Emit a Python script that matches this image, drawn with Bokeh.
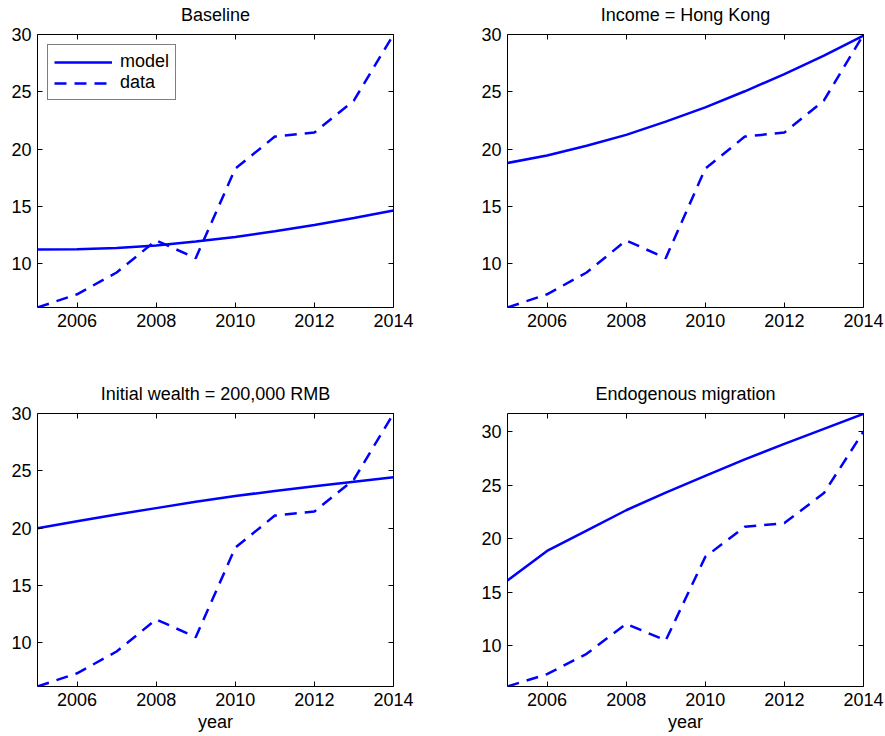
from bokeh.plotting import figure
from bokeh.layouts import column, row
from bokeh.models import (Range1d, FixedTicker, LinearAxis, CustomJSTickFormatter,
                          Legend, LegendItem)
from bokeh.embed import file_html
from bokeh.resources import INLINE

# ---- data ----
years = [2005, 2006, 2007, 2008, 2009, 2010, 2011, 2012, 2013, 2014]
data_series = [6.2, 7.35, 9.25, 12.05, 10.5, 18.3, 21.1, 21.45, 24.25, 30.0]
model_baseline = [11.25, 11.27, 11.38, 11.6, 11.95, 12.35, 12.85, 13.4, 14.0, 14.65]
model_hongkong = [18.8, 19.45, 20.3, 21.25, 22.4, 23.65, 25.05, 26.55, 28.15, 29.9]
model_wealth = [20.0, 20.6, 21.2, 21.75, 22.3, 22.8, 23.25, 23.65, 24.05, 24.45]
model_migration = [16.1, 18.85, 20.75, 22.65, 24.3, 25.85, 27.4, 28.85, 30.25, 31.65]

titles = ["Baseline", "Income = Hong Kong", "Initial wealth = 200,000 RMB",
          "Endogenous migration"]
x_ticks = [2006, 2008, 2010, 2012, 2014]
y_ticks = [10, 15, 20, 25, 30]
y_tops = [30.0, 30.0, 30.0, 31.68]
y_bottom = 6.2
x_label = "year"
legend_labels = ["model", "data"]

FONT = "Liberation Sans"
BLUE = "#0000ff"
FS = "18px"
TFS = "18px"


def hidden_axis(ticks, tick_in=5, tick_out=0, color="black"):
    return LinearAxis(ticker=FixedTicker(ticks=ticks),
                      formatter=CustomJSTickFormatter(code="return ''"),
                      major_tick_in=tick_in, major_tick_out=tick_out,
                      minor_tick_in=0, minor_tick_out=0,
                      axis_line_color=None, major_label_text_font_size="0px",
                      major_label_standoff=0, major_tick_line_color=color)


def make(i, model):
    col = i % 2
    rw = i // 2
    width = 450 if col == 0 else 435
    height = 357 if rw == 0 else 379
    p = figure(width=width, height=height,
               x_range=Range1d(2005, 2014), y_range=Range1d(y_bottom, y_tops[i]),
               output_backend="svg", toolbar_location=None,
               min_border_left=37 if col == 0 else 57,
               min_border_right=57 if col == 0 else 22,
               min_border_top=34 if rw == 0 else 56,
               min_border_bottom=50,
               background_fill_color="white", border_fill_color="white")
    p.title.text = titles[i]
    p.title.align = "center"
    p.title.text_font = FONT
    p.title.text_font_size = TFS
    p.title.text_font_style = "normal"
    p.title.text_color = "black"
    p.title.standoff = 0

    p.grid.visible = False
    p.outline_line_color = "black"
    p.outline_line_width = 1
    p.outline_line_alpha = 1

    for ax, ticks in ((p.xaxis[0], x_ticks), (p.yaxis[0], y_ticks)):
        ax.ticker = FixedTicker(ticks=ticks)
        ax.major_tick_in = 5
        ax.major_tick_out = 0
        ax.minor_tick_in = 0
        ax.minor_tick_out = 0
        ax.axis_line_color = None
        ax.major_tick_line_color = "black"
        ax.major_label_text_font = FONT
        ax.major_label_text_font_size = FS
        ax.major_label_text_color = "black"
        ax.major_label_standoff = 6
    if rw == 1:
        p.xaxis[0].axis_label = x_label
        p.xaxis[0].axis_label_text_font = FONT
        p.xaxis[0].axis_label_text_font_size = FS
        p.xaxis[0].axis_label_text_font_style = "normal"
        p.xaxis[0].axis_label_text_color = "black"
        p.xaxis[0].axis_label_standoff = 3

    # inward ticks on the top and right edges (box on)
    p.add_layout(hidden_axis(x_ticks), "above")
    p.add_layout(hidden_axis(y_ticks), "right")
    # invisible spacer between frame and title
    p.add_layout(hidden_axis(x_ticks, tick_in=0, tick_out=10, color=None), "above")

    r1 = p.line(years, model, line_color=BLUE, line_width=2.5)
    r2 = p.line(years, data_series, line_color=BLUE, line_width=2.5, line_dash="12 8")

    if i == 0:
        leg = Legend(items=[LegendItem(label=legend_labels[0], renderers=[r1]),
                            LegendItem(label=legend_labels[1], renderers=[r2])],
                     location="top_left", margin=10, padding=6, spacing=0,
                     glyph_width=58, glyph_height=20, label_height=20,
                     label_standoff=8, label_text_font=FONT,
                     label_text_font_size=FS, label_text_color="black",
                     border_line_color="black", border_line_width=1,
                     background_fill_color="white", background_fill_alpha=1)
        p.add_layout(leg)
    return p


models = [model_baseline, model_hongkong, model_wealth, model_migration]
figs = [make(i, m) for i, m in enumerate(models)]

layout = column(row(figs[0], figs[1]), row(figs[2], figs[3]))

open("out.html", "w").write(file_html(layout, INLINE))
